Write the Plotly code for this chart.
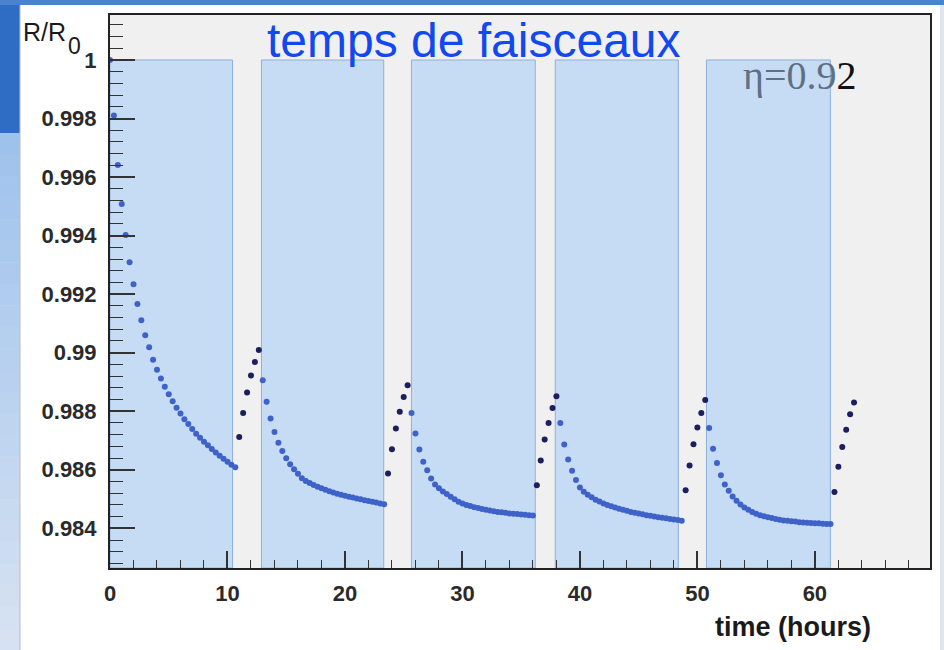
import plotly.graph_objects as go

# ---------------------------------------------------------------------------
# Data: R/R0 sampled every 20 minutes through five beam-on / beam-off cycles
# ---------------------------------------------------------------------------
STEP_H = 1 / 3  # sampling interval in hours

cycle_start_h = [0.0, 13.0, 25.667, 38.333, 51.0]

# R/R0 while the beam is on (decay)
beam_on_R = [
    [1.0000, 0.9981, 0.99641, 0.99508, 0.99402, 0.99309, 0.99234, 0.99166,
     0.99111, 0.99060, 0.99019, 0.98976, 0.98942, 0.98912, 0.98884, 0.98858,
     0.98834, 0.98812, 0.98792, 0.98773, 0.98756, 0.98739, 0.98723, 0.98709,
     0.98696, 0.98684, 0.98671, 0.98659, 0.98648, 0.98638, 0.98627, 0.98617,
     0.98609],
    [0.98906, 0.98832, 0.98775, 0.98729, 0.98692, 0.98664, 0.98639, 0.98619,
     0.98602, 0.98586, 0.98571, 0.98562, 0.98555, 0.98548, 0.98542, 0.98537,
     0.98532, 0.98527, 0.98522, 0.98518, 0.98515, 0.98511, 0.98508, 0.98505,
     0.98502, 0.98499, 0.98496, 0.98493, 0.98491, 0.98488, 0.98485, 0.98482],
    [0.98794, 0.98724, 0.98669, 0.98627, 0.98598, 0.98570, 0.98550, 0.98537,
     0.98526, 0.98517, 0.98508, 0.98499, 0.98491, 0.98485, 0.98480, 0.98476,
     0.98472, 0.98469, 0.98466, 0.98463, 0.98461, 0.98458, 0.98456, 0.98455,
     0.98453, 0.98451, 0.98450, 0.98449, 0.98447, 0.98446, 0.98445, 0.98444],
    [0.98760, 0.98686, 0.98635, 0.98597, 0.98565, 0.98539, 0.98525, 0.98515,
     0.98506, 0.98498, 0.98492, 0.98485, 0.98480, 0.98475, 0.98471, 0.98467,
     0.98463, 0.98460, 0.98456, 0.98453, 0.98451, 0.98448, 0.98445, 0.98443,
     0.98440, 0.98438, 0.98436, 0.98434, 0.98432, 0.98430, 0.98428, 0.98426],
    [0.98743, 0.98672, 0.98623, 0.98581, 0.98550, 0.98528, 0.98509, 0.98494,
     0.98481, 0.98471, 0.98463, 0.98456, 0.98450, 0.98445, 0.98441, 0.98438,
     0.98435, 0.98432, 0.98429, 0.98427, 0.98426, 0.98424, 0.98423, 0.98421,
     0.98420, 0.98419, 0.98418, 0.98417, 0.98417, 0.98416, 0.98415, 0.98415],
]

# R/R0 while the beam is off (recovery)
beam_off_R = [
    [0.98712, 0.98794, 0.98864, 0.98922, 0.98968, 0.99009],
    [0.98587, 0.98670, 0.98741, 0.98798, 0.98849, 0.98889],
    [0.98547, 0.98632, 0.98703, 0.98760, 0.98811, 0.98851],
    [0.98530, 0.98615, 0.98687, 0.98744, 0.98794, 0.98838],
    [0.98524, 0.98610, 0.98678, 0.98737, 0.98790, 0.98830],
]

# Beam periods (hours) shown as shaded bands
beam_periods_h = [(0.0, 10.43), (12.89, 23.30), (25.66, 36.20),
                  (37.90, 48.38), (50.77, 61.32)]
band_top = 1.0

x_tick_vals = [0, 10, 20, 30, 40, 50, 60]
y_tick_vals = [0.984, 0.986, 0.988, 0.990, 0.992, 0.994, 0.996, 0.998, 1.0]
y_tick_text = ["0.984", "0.986", "0.988", "0.99", "0.992", "0.994",
               "0.996", "0.998", "1"]

X_RANGE = [0.0, 69.8]
Y_RANGE = [0.982644, 1.001537]

# ---------------------------------------------------------------------------
t_on, r_on, t_off, r_off = [], [], [], []
for start, on, off in zip(cycle_start_h, beam_on_R, beam_off_R):
    n = len(on)
    t_on += [start + i * STEP_H for i in range(n)]
    r_on += on
    t_off += [start + (n + j) * STEP_H for j in range(len(off))]
    r_off += off

W, H = 944, 650
ML, MR, MT, MB = 110, 14, 15, 82
PW, PH = W - ML - MR, H - MT - MB


def px_x(px):
    return (px - ML) / PW


def px_y(py):
    return (H - MB - py) / PH


fig = go.Figure()

fig.add_trace(go.Scatter(
    x=t_on, y=r_on, mode="markers",
    marker=dict(size=6, color="#3f62c8"),
    hoverinfo="skip", showlegend=False))
fig.add_trace(go.Scatter(
    x=t_off, y=r_off, mode="markers",
    marker=dict(size=6, color="#1c1e5e"),
    hoverinfo="skip", showlegend=False))

shapes = []
for x0, x1 in beam_periods_h:
    shapes.append(dict(type="rect", xref="x", yref="y", x0=x0, x1=x1,
                       y0=Y_RANGE[0], y1=band_top, fillcolor="#c6dcf4",
                       line=dict(color="#8fb0d8", width=1), layer="below"))


# slide background around the canvas
def hex_mix(c1, c2, f):
    a = [int(c1[i:i + 2], 16) for i in (1, 3, 5)]
    b = [int(c2[i:i + 2], 16) for i in (1, 3, 5)]
    return "#" + "".join(f"{round(a[k] + (b[k] - a[k]) * f):02x}" for k in range(3))


shapes.append(dict(type="rect", xref="paper", yref="paper",
                   x0=px_x(0), x1=px_x(W), y0=px_y(0), y1=px_y(5),
                   fillcolor="#4a84cf", line=dict(width=0), layer="below"))
shapes.append(dict(type="rect", xref="paper", yref="paper",
                   x0=px_x(0), x1=px_x(20), y0=px_y(5), y1=px_y(133),
                   fillcolor="#2f6dc5", line=dict(width=0), layer="below"))
n_steps = 24
for k in range(n_steps):
    ya = 133 + (H - 133) * k / n_steps
    yb = 133 + (H - 133) * (k + 1) / n_steps
    shapes.append(dict(type="rect", xref="paper", yref="paper",
                       x0=px_x(0), x1=px_x(20), y0=px_y(ya), y1=px_y(yb + 0.5),
                       fillcolor=hex_mix("#9fc2ec", "#d6e2f2", k / (n_steps - 1)),
                       line=dict(width=0), layer="below"))
shapes.append(dict(type="rect", xref="paper", yref="paper",
                   x0=px_x(940), x1=px_x(W), y0=px_y(5), y1=px_y(H),
                   fillcolor="#dfe6f2", line=dict(width=0), layer="below"))
shapes.append(dict(type="line", xref="paper", yref="paper",
                   x0=px_x(20), x1=px_x(20), y0=px_y(5), y1=px_y(H),
                   line=dict(color="#b8bcc4", width=1), layer="below"))

SANS = "Liberation Sans, Arial, sans-serif"
tick_font = dict(family=SANS, size=22, color="#2a2a2a", weight="bold")

fig.update_layout(
    width=W, height=H,
    margin=dict(l=ML, r=MR, t=MT, b=MB),
    paper_bgcolor="#ffffff",
    plot_bgcolor="#f0f0f0",
    shapes=shapes,
    xaxis=dict(
        range=X_RANGE, tickmode="array", tickvals=x_tick_vals,
        ticks="inside", ticklen=17, tickwidth=1.5, tickcolor="#333333",
        showline=True, linecolor="#222222", linewidth=2, mirror=True,
        showgrid=False, zeroline=False, tickfont=tick_font,
        ticklabelstandoff=5,
        minor=dict(tickmode="linear", tick0=0, dtick=2, ticks="inside",
                   ticklen=8, tickwidth=1.2, tickcolor="#333333", showgrid=False),
    ),
    yaxis=dict(
        range=Y_RANGE, tickmode="array", tickvals=y_tick_vals,
        ticktext=y_tick_text,
        ticks="inside", ticklen=25, tickwidth=1.5, tickcolor="#333333",
        showline=True, linecolor="#222222", linewidth=2, mirror=True,
        showgrid=False, zeroline=False, tickfont=tick_font,
        ticklabelstandoff=7,
        minor=dict(tickmode="linear", tick0=0.984, dtick=0.0004, ticks="inside",
                   ticklen=13, tickwidth=1.2, tickcolor="#333333", showgrid=False),
    ),
    annotations=[
        dict(text="temps de faisceaux", xref="paper", yref="paper",
             x=px_x(474), y=px_y(41), xanchor="center", yanchor="middle",
             showarrow=False,
             font=dict(family=SANS, size=48, color="#1248f0")),
        dict(text="<span style='color:#5f6f84'>\u03b7=0.9</span>2",
             xref="paper", yref="paper", x=px_x(741), y=px_y(75),
             xanchor="left", yanchor="middle", showarrow=False,
             font=dict(family="Liberation Serif, Times New Roman, serif",
                       size=40, color="#111111")),
        dict(text="R/R", xref="paper", yref="paper", x=px_x(21), y=px_y(32),
             xanchor="left", yanchor="middle", showarrow=False,
             font=dict(family=SANS, size=25, color="#1a1a1a")),
        dict(text="0", xref="paper", yref="paper", x=px_x(74), y=px_y(46),
             xanchor="center", yanchor="middle", showarrow=False,
             font=dict(family=SANS, size=23, color="#1a1a1a")),
        dict(text="time (hours)", xref="paper", yref="paper",
             x=px_x(873), y=px_y(627), xanchor="right", yanchor="middle",
             showarrow=False,
             font=dict(family=SANS, size=27, color="#1a1a1a", weight="bold")),
    ],
)

fig.write_html("out.html")
